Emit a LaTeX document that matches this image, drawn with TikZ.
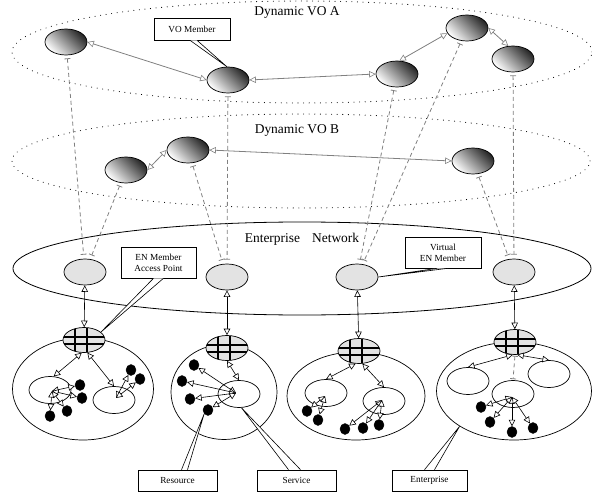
\documentclass[tikz,border=0pt]{standalone}
\usepackage{fontspec}
\setmainfont{Liberation Serif}
\usetikzlibrary{shapes.geometric,arrows.meta}
\begin{document}
\begin{tikzpicture}[x=1bp,y=-1bp,
  otri/.tip={Triangle[fill=white,length=6.5bp,width=6.5bp,line width=0.6bp]},
  vo/.style={ellipse,draw,line width=0.7bp,minimum width=42bp,minimum height=26bp,inner sep=0,
     top color=black!85,bottom color=white,shading angle=-45},
  en/.style={ellipse,draw,line width=0.7bp,fill=gray!22,minimum width=42bp,minimum height=26bp,inner sep=0},
  gw/.style={ellipse,draw,line width=0.7bp,fill=gray!22,minimum width=42bp,minimum height=25bp,inner sep=0,
     path picture={
       \draw[line width=1.3bp] ([xshift=-9bp]path picture bounding box.north) -- ([xshift=-9bp]path picture bounding box.south);
       \draw[line width=1.3bp] ([xshift=3bp]path picture bounding box.north) -- ([xshift=3bp]path picture bounding box.south);
       \draw[line width=1.3bp] ([yshift=3bp]path picture bounding box.west) -- ([yshift=3bp]path picture bounding box.east);
       \draw[line width=1.3bp] ([yshift=-4bp]path picture bounding box.west) -- ([yshift=-4bp]path picture bounding box.east);
     }},
  ent/.style={ellipse,draw,line width=0.7bp,inner sep=0},
  sub/.style={ellipse,draw,line width=0.7bp,minimum width=42bp,minimum height=27bp,inner sep=0},
  res/.style={ellipse,draw,fill=black,minimum width=10bp,minimum height=11bp,inner sep=0},
  voarr/.style={draw=gray,line width=0.8bp,{otri}-{otri}},
  dl/.style={draw=gray,line width=0.8bp,dash pattern=on 4bp off 3bp,{Bar[width=6bp]}-{Bar[width=6bp]},shorten <=3bp,shorten >=4bp},
  enarr/.style={draw=black,line width=0.6bp,{otri}-{otri}},
  box/.style={draw,fill=white,line width=0.6bp,inner sep=0,font=\fontsize{9.3}{11}\selectfont,align=center},
  tail/.style={draw,fill=white,line width=0.6bp},
  title/.style={inner sep=0,font=\fontsize{13.5}{16}\selectfont}
]
\useasboundingbox (0,0) rectangle (592,492);

% large groups
\draw[line width=1bp,line cap=round,dash pattern=on 0.1bp off 5.5bp] (302,52) ellipse [x radius=290bp, y radius=51bp];
\draw[line width=1bp,line cap=round,dash pattern=on 0.1bp off 5.5bp] (301,161) ellipse [x radius=289bp, y radius=47bp];
\draw[line width=0.8bp] (302,268.5) ellipse [x radius=289bp, y radius=46.5bp];

\node[title] (tA) at (297,13) {Dynamic VO A};
\node[title] (tB) at (297,131) {Dynamic VO B};
\node[title] (tE) at (302,239) {Enterprise\hspace{12bp}Network};

% VO A members
\node[vo] (A1) at (66,42) {};
\node[vo] (A2) at (228,80) {};
\node[vo] (A3) at (397,74) {};
\node[vo] (A4) at (467,28) {};
\node[vo] (A5) at (513,59) {};
% VO B members
\node[vo] (B1) at (126,170) {};
\node[vo] (B2) at (188,150) {};
\node[vo] (B3) at (473,161) {};
% EN members
\node[en] (E1) at (85,272) {};
\node[en] (E2) at (227,277) {};
\node[en] (E3) at (357,277) {};
\node[en] (E4) at (514,272) {};

% enterprises
\node[ent,minimum width=141bp,minimum height=102bp] (C1) at (83,389) {};
\node[ent,minimum width=106bp,minimum height=95bp] (C2) at (224,392) {};
\node[ent,minimum width=138bp,minimum height=88bp] (C3) at (356,396) {};
\node[ent,minimum width=155bp,minimum height=98bp] (C4) at (514,391) {};
% services
\node[sub] (S1a) at (50,390) {};
\node[sub] (S1b) at (114,400) {};
\node[sub] (S2) at (239,394) {};
\node[sub] (S3a) at (326,393) {};
\node[sub] (S3b) at (384,401) {};
\node[sub] (S4a) at (468,381) {};
\node[sub] (S4b) at (549,374) {};
\node[sub] (S4c) at (513,394) {};
% access points
\node[gw] (G1) at (84,340) {};
\node[gw] (G2) at (227,348) {};
\node[gw] (G3) at (359,351) {};
\node[gw] (G4) at (515,342) {};

% resources
\node[res] (d11) at (80,385) {};
\node[res] (d12) at (82,398) {};
\node[res] (d13) at (50,416) {};
\node[res] (d14) at (67,411) {};
\node[res] (d15) at (131,370) {};
\node[res] (d16) at (140,379) {};
\node[res] (d21) at (194,365) {};
\node[res] (d22) at (182,381) {};
\node[res] (d23) at (190,399) {};
\node[res] (d24) at (208,410) {};
\node[res] (d31) at (307,411) {};
\node[res] (d32) at (318,420) {};
\node[res] (d33) at (345,429) {};
\node[res] (d34) at (363,428) {};
\node[res] (d35) at (379,425) {};
\node[res] (d41) at (481,407) {};
\node[res] (d42) at (490,422) {};
\node[res] (d43) at (512,432) {};
\node[res] (d44) at (533,428) {};

\coordinate (o1a) at (52,391);
\coordinate (o1b) at (116,398);
\coordinate (o2) at (236,393);
\coordinate (o3a) at (325,396);
\coordinate (o3b) at (382,400);
\coordinate (o4) at (512,397);

% VO links
\draw[voarr] (A1.east) -- (A2.west);
\draw[voarr] (A2.east) -- (A3.west);
\draw[voarr] (A3.80) -- (A4.195);
\draw[voarr] (A4.east) -- (A5.110);
\draw[voarr] (B1.east) -- (B2.west);
\draw[voarr] (B2.east) -- (B3.west);

% VO to EN dashed links
\draw[dl] (A1) -- (E1);
\draw[dl] (B1) -- (E1);
\draw[dl] (A2) -- (E2);
\draw[dl] (B2) -- (E2);
\draw[dl] (A3) -- (E3);
\draw[dl] (A4) -- (E3);
\draw[dl] (A5) -- (E4);
\draw[dl] (B3) -- (E4);

% EN to access points
\draw[enarr] (E1) -- (G1);
\draw[enarr] (E2) -- (G2);
\draw[enarr] (E3) -- (G3);
\draw[enarr] (E4) -- (G4);

% access points to services
\draw[enarr] (G1.260) -- (S1a.75);
\draw[enarr] (G1.285) -- (S1b.north);
\draw[enarr] (G2.south) -- (S2.north);
\draw[enarr] (G3.255) -- (S3a.north);
\draw[enarr] (G3.285) -- (S3b.north);
\draw[enarr] (G4.260) -- (S4a.north);
\draw[enarr] (G4.280) -- (S4b.north);
\draw[dl,shorten <=1bp,shorten >=1bp] (G4.south) -- (S4c.north);

% services to resources
\foreach \d in {d11,d12,d13,d14} \draw[enarr] (o1a) -- (\d);
\foreach \d in {d15,d16} \draw[enarr] (o1b) -- (\d);
\foreach \d in {d21,d22,d23,d24} \draw[enarr] (o2) -- (\d);
\foreach \d in {d31,d32} \draw[enarr] (o3a) -- (\d);
\foreach \d in {d33,d34,d35} \draw[enarr] (o3b) -- (\d);
\foreach \d in {d41,d42,d43,d44} \draw[enarr] (o4) -- (\d);

% callouts
\node[box,minimum width=76bp,minimum height=22bp] (lVO) at (192,29) {VO Member};
\node[box,minimum width=75bp,minimum height=31bp] (lEN) at (158.5,262.5) {EN Member\\Access Point};
\node[box,minimum width=76bp,minimum height=31bp] (lVirt) at (443,252.5) {Virtual\\EN Member};
\node[box,minimum width=79bp,minimum height=21bp] (lRes) at (177.5,480.5) {Resource};
\node[box,minimum width=79bp,minimum height=21bp] (lSer) at (296.5,480.5) {Service};
\node[box,minimum width=75bp,minimum height=21bp] (lEnt) at (429.5,480.5) {Enterprise};

\draw[tail] ([xshift=-2bp]lVO.south) -- (A2.95) -- ([xshift=5bp]lVO.south);
\draw[tail] ([xshift=-5bp]lEN.south) -- (G1.25) -- ([xshift=5bp]lEN.south);
\draw[tail] ([xshift=-6bp]lVirt.south) -- (E3.east) -- ([xshift=5bp]lVirt.south);
\draw[tail] ([xshift=4bp]lRes.north) -- (d24.225) -- ([xshift=10bp]lRes.north);
\draw[tail] ([xshift=-8bp]lSer.north) -- (S2.-80) -- ([xshift=4bp]lSer.north);
\draw[tail] ([xshift=-5bp]lEnt.north) -- (C4.213) -- ([xshift=5bp]lEnt.north);
\end{tikzpicture}
\end{document}
